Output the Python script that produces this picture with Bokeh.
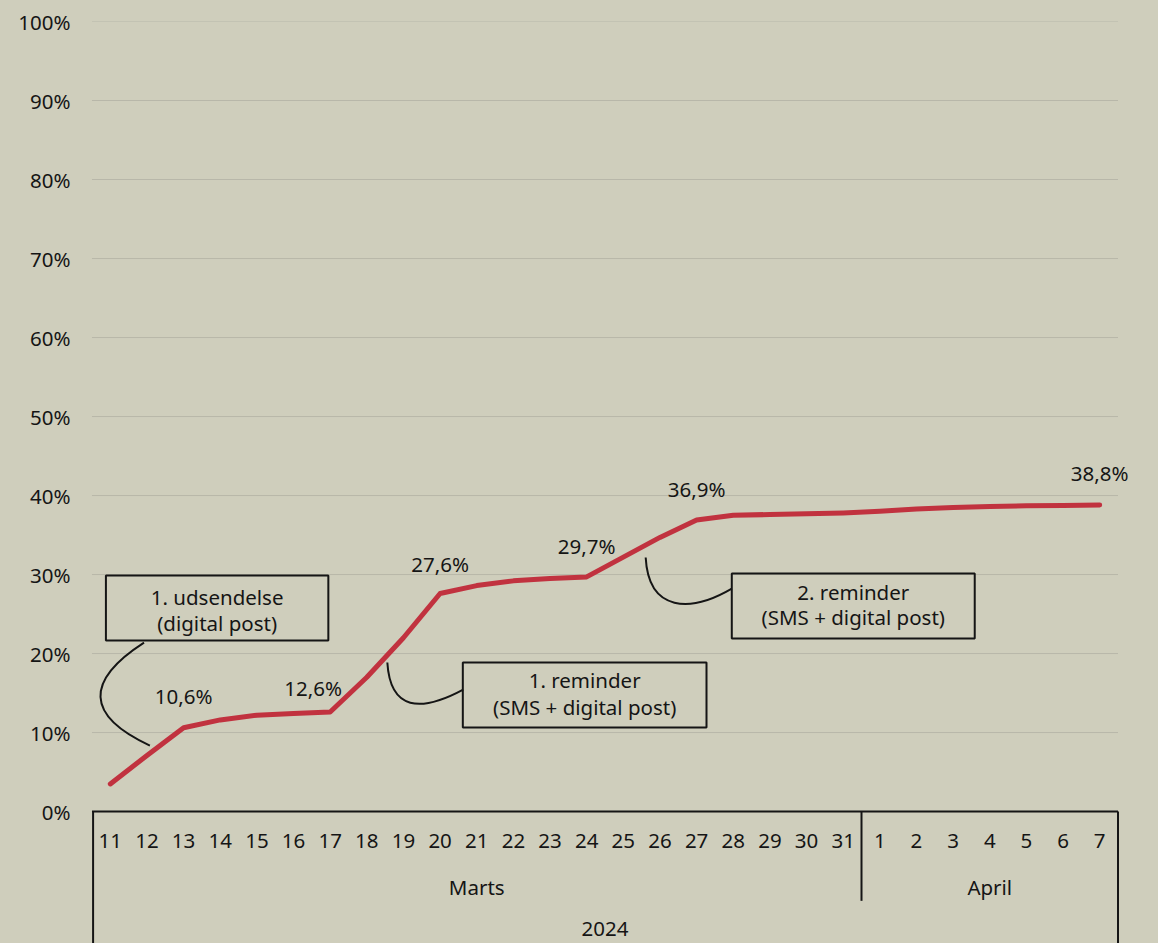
from bokeh.plotting import figure
from bokeh.models import (FactorRange, Range1d, FixedTicker, PrintfTickFormatter,
                          ColumnDataSource, LabelSet, Label)
from bokeh.core.properties import value
from bokeh.embed import file_html
from bokeh.resources import INLINE

# ---------------- data ----------------
march_days = [str(d) for d in range(11, 32)]
april_days = [str(d) for d in range(1, 8)]
days = march_days + april_days
months = ["Marts", "April"]
year = "2024"

share = [3.5, 7.1, 10.6, 11.6, 12.2, 12.4, 12.6, 17.0, 22.0, 27.6, 28.6,
         29.2, 29.5, 29.7, 32.2, 34.7, 36.9, 37.5, 37.6, 37.7, 37.8,
         38.0, 38.3, 38.5, 38.6, 38.7, 38.75, 38.8]

label_days = ["13", "17", "20", "24", "27", "7"]
y_ticks = list(range(0, 101, 10))

events = [
    ("1. udsendelse", "(digital post)"),
    ("1. reminder", "(SMS + digital post)"),
    ("2. reminder", "(SMS + digital post)"),
]

# ---------------- style / layout ----------------
BG = "#cfcebc"
GRID = "#b8b7a9"
RED = "#c1323f"
INK = "#151515"
FONT = "Noto Sans"
FS = "20.5px"
Y_MIN = -16.7

n_all = len(days)
n_mar = len(march_days)

p = figure(width=1158, height=943,
           x_range=FactorRange(factors=days, range_padding=0.45,
                               range_padding_units="absolute"),
           y_range=Range1d(Y_MIN, 100),
           output_backend="svg", toolbar_location=None, x_axis_location=None,
           min_border_left=75, min_border_right=24, min_border_top=21,
           min_border_bottom=0)
p.background_fill_color = BG
p.border_fill_color = BG
p.outline_line_color = None

p.yaxis.ticker = FixedTicker(ticks=y_ticks)
p.yaxis.formatter = PrintfTickFormatter(format="%d%%")
p.yaxis.axis_line_color = None
p.yaxis.major_tick_line_color = None
p.yaxis.minor_tick_line_color = None
p.yaxis.major_label_standoff = -1
p.yaxis.major_label_text_font = FONT
p.yaxis.major_label_text_font_size = FS
p.yaxis.major_label_text_color = INK
p.ygrid.visible = False
p.xgrid.visible = False

# horizontal gridlines spanning the category block
p.segment(x0=[0] * len(y_ticks), x1=[n_all] * len(y_ticks), y0=y_ticks, y1=y_ticks,
          line_color=GRID, line_width=1)

# main series
p.line(x=days, y=share, line_color=RED, line_width=5,
       line_cap="round", line_join="round")

# data labels
idx = [days.index(d) for d in label_days]
lab_src = ColumnDataSource(dict(
    day=label_days,
    val=[share[i] for i in idx],
    txt=[f"{share[i]:.1f}".replace(".", ",") + "%" for i in idx],
    dx=[0, -17, 0, 0, 0, 0],
    dy=[32, 24, 30, 31, 31, 32],
))
p.add_layout(LabelSet(x="day", y="val", text="txt", x_offset="dx", y_offset="dy",
                      source=lab_src, text_align="center", text_baseline="middle",
                      text_font=value(FONT), text_font_size=value(FS),
                      text_color=INK))

# ---------------- multi-level category axis (drawn) ----------------
p.segment(x0=[0, 0.03, n_all, n_mar], y0=[0, 0, 0, 0],
          x1=[n_all, 0.03, n_all, n_mar], y1=[0, Y_MIN, Y_MIN, -11.3],
          line_color=INK, line_width=2)
p.text(x=days, y=[-3.7] * n_all, text=days, text_align="center",
       text_baseline="middle", text_font=value(FONT), text_font_size=value(FS),
       text_color=INK)
for txt, xc, yc in [(months[0], n_mar / 2, -9.5),
                    (months[1], n_mar + len(april_days) / 2, -9.5),
                    (year, n_all / 2, -14.85)]:
    p.add_layout(Label(x=xc, y=yc, text=txt, text_align="center",
                       text_baseline="middle", text_font=FONT,
                       text_font_size=FS, text_color=INK))

# ---------------- event callouts ----------------
box_l = [0.38, 10.12, 17.46]
box_r = [6.45, 16.77, 24.09]
box_t = [29.87, 18.86, 30.13]
box_b = [21.65, 10.63, 21.9]
p.quad(left=box_l, right=box_r, top=box_t, bottom=box_b, fill_color=None,
       line_color=INK, line_width=2)
cx = [(l + r) / 2 for l, r in zip(box_l, box_r)]
p.text(x=cx + cx, y=[27.2, 16.7, 27.8] + [23.9, 13.2, 24.6],
       text=[e[0] for e in events] + [e[1] for e in events],
       text_align="center", text_baseline="middle", text_font=value(FONT),
       text_font_size=value(FS), text_color=INK)

p.bezier(x0=[1.42, 8.06, 15.11], y0=[21.39, 18.86, 32.15],
         x1=[1.58, 10.13, 17.46], y1=[8.35, 15.44, 28.23],
         cx0=[-0.19, 8.14, 15.19], cy0=[16.58, 12.78, 25.19],
         cx1=[-0.19, 8.96, 16.34], cy1=[12.15, 12.53, 25.19],
         line_color=INK, line_width=2)

TEMPLATE = "{% block postamble %}<style>body{background:" + BG + ";}</style>{% endblock %}"
open("out.html", "w").write(file_html(p, INLINE, template=TEMPLATE))
